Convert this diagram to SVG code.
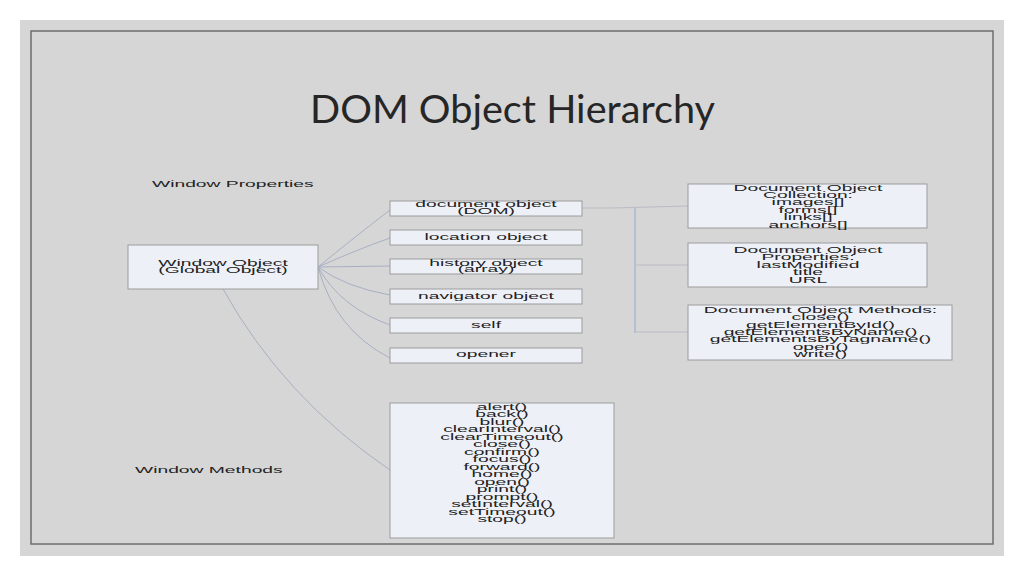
<svg xmlns="http://www.w3.org/2000/svg" width="1024" height="576" viewBox="0 0 1024 576">
<style>
.box{fill:#eef0f7;stroke:#9c9c9c;stroke-width:1}
.t{font-family:"Liberation Sans",Arial,sans-serif;font-size:8.2px;fill:#222222;text-anchor:middle}
.l{font-family:"Liberation Sans",Arial,sans-serif;font-size:8.2px;fill:#222222}
.c{fill:none;stroke:#a7b0c2;stroke-width:1}
.e{fill:none;stroke:#b9bcc4;stroke-width:1}
</style>
<rect x="0" y="0" width="1024" height="576" fill="#ffffff"/>
<rect x="20" y="20" width="984" height="536" fill="#d6d6d6"/>
<rect x="31" y="31" width="962" height="513" fill="none" stroke="#6e6e6e" stroke-width="1.5"/>
<text x="512.5" y="123" font-family="Lato,'Noto Sans',sans-serif" font-size="39" fill="#262626" text-anchor="middle" textLength="405" lengthAdjust="spacingAndGlyphs">DOM Object Hierarchy</text>
<text class="l" transform="translate(152,0) scale(2.35,1)" x="0" y="187">Window Properties</text>
<text class="l" transform="translate(135,0) scale(2.35,1)" x="0" y="473">Window Methods</text>
<g id="connectors">
<path class="c" d="M318,267 Q356,236 390,210"/>
<path class="c" d="M318,267 Q356,250 390,238"/>
<path class="c" d="M318,267 L390,266"/>
<path class="c" d="M318,267 Q345,287 390,295"/>
<path class="c" d="M318,267 Q340,307 390,325"/>
<path class="c" d="M318,267 Q335,330 390,358"/>
<path class="c" d="M223,289 Q283,397 390,470"/>
<polyline class="e" points="582,208 612,208 688,206"/>
<line x1="635" y1="208" x2="635" y2="333" stroke="#b5c1d2" stroke-width="2"/>
<line class="e" x1="635" y1="265" x2="688" y2="265"/>
<line class="e" x1="635" y1="332" x2="688" y2="332"/>
</g>
<g id="window-object">
<rect class="box" x="128" y="245" width="190" height="44"/>
<g transform="translate(223,0) scale(2.35,1)">
<text class="t" x="0" y="266">Window Object</text>
<text class="t" x="0" y="273">(Global Object)</text>
</g>
</g>
<g id="document-object">
<rect class="box" x="390" y="201" width="192" height="15"/>
<g transform="translate(486,0) scale(2.35,1)">
<text class="t" x="0" y="207">document object</text>
<text class="t" x="0" y="214">(DOM)</text>
</g>
</g>
<g id="location-object">
<rect class="box" x="390" y="230" width="192" height="15"/>
<text class="t" transform="translate(486,0) scale(2.35,1)" x="0" y="240.5">location object</text>
</g>
<g id="history-object">
<rect class="box" x="390" y="259" width="192" height="15"/>
<g transform="translate(486,0) scale(2.35,1)">
<text class="t" x="0" y="266">history object</text>
<text class="t" x="0" y="272.5">(array)</text>
</g>
</g>
<g id="navigator-object">
<rect class="box" x="390" y="289" width="192" height="15"/>
<text class="t" transform="translate(486,0) scale(2.35,1)" x="0" y="299.5">navigator object</text>
</g>
<g id="self">
<rect class="box" x="390" y="318" width="192" height="15"/>
<text class="t" transform="translate(486,0) scale(2.35,1)" x="0" y="328.5">self</text>
</g>
<g id="opener">
<rect class="box" x="390" y="348" width="192" height="15"/>
<text class="t" transform="translate(486,0) scale(2.35,1)" x="0" y="357">opener</text>
</g>
<g id="document-collection">
<rect class="box" x="688" y="184" width="239" height="44"/>
<g transform="translate(808,0) scale(2.35,1)">
<text class="t" x="0" y="191">Document Object</text>
<text class="t" x="0" y="198.5">Collection:</text>
<text class="t" x="0" y="205.5">images[]</text>
<text class="t" x="0" y="213">forms[]</text>
<text class="t" x="0" y="220.5">links[]</text>
<text class="t" x="0" y="228">anchors[]</text>
</g>
</g>
<g id="document-properties">
<rect class="box" x="688" y="243" width="239" height="44"/>
<g transform="translate(808,0) scale(2.35,1)">
<text class="t" x="0" y="253">Document Object</text>
<text class="t" x="0" y="260.5">Properties:</text>
<text class="t" x="0" y="268">lastModified</text>
<text class="t" x="0" y="275.5">title</text>
<text class="t" x="0" y="283">URL</text>
</g>
</g>
<g id="document-methods">
<rect class="box" x="688" y="305" width="264" height="55"/>
<g transform="translate(820.5,0) scale(2.35,1)">
<text class="t" x="0" y="313">Document Object Methods:</text>
<text class="t" x="0" y="320.5">close()</text>
<text class="t" x="0" y="328">getElementById()</text>
<text class="t" x="0" y="335">getElementsByName()</text>
<text class="t" x="0" y="342.5">getElementsByTagname()</text>
<text class="t" x="0" y="350">open()</text>
<text class="t" x="0" y="357">write()</text>
</g>
</g>
<g id="window-methods">
<rect class="box" x="390" y="403" width="224" height="135"/>
<g transform="translate(502,0) scale(2.35,1)">
<text class="t" x="0" y="410">alert()</text>
<text class="t" x="0" y="417.5">back()</text>
<text class="t" x="0" y="425">blur()</text>
<text class="t" x="0" y="432.4">clearInterval()</text>
<text class="t" x="0" y="439.9">clearTimeout()</text>
<text class="t" x="0" y="447.4">close()</text>
<text class="t" x="0" y="454.8">confirm()</text>
<text class="t" x="0" y="462.3">focus()</text>
<text class="t" x="0" y="469.8">forward()</text>
<text class="t" x="0" y="477.2">home()</text>
<text class="t" x="0" y="484.7">open()</text>
<text class="t" x="0" y="492.2">print()</text>
<text class="t" x="0" y="499.6">prompt()</text>
<text class="t" x="0" y="507.1">setInterval()</text>
<text class="t" x="0" y="514.6">setTimeout()</text>
<text class="t" x="0" y="522">stop()</text>
</g>
</g>
</svg>
